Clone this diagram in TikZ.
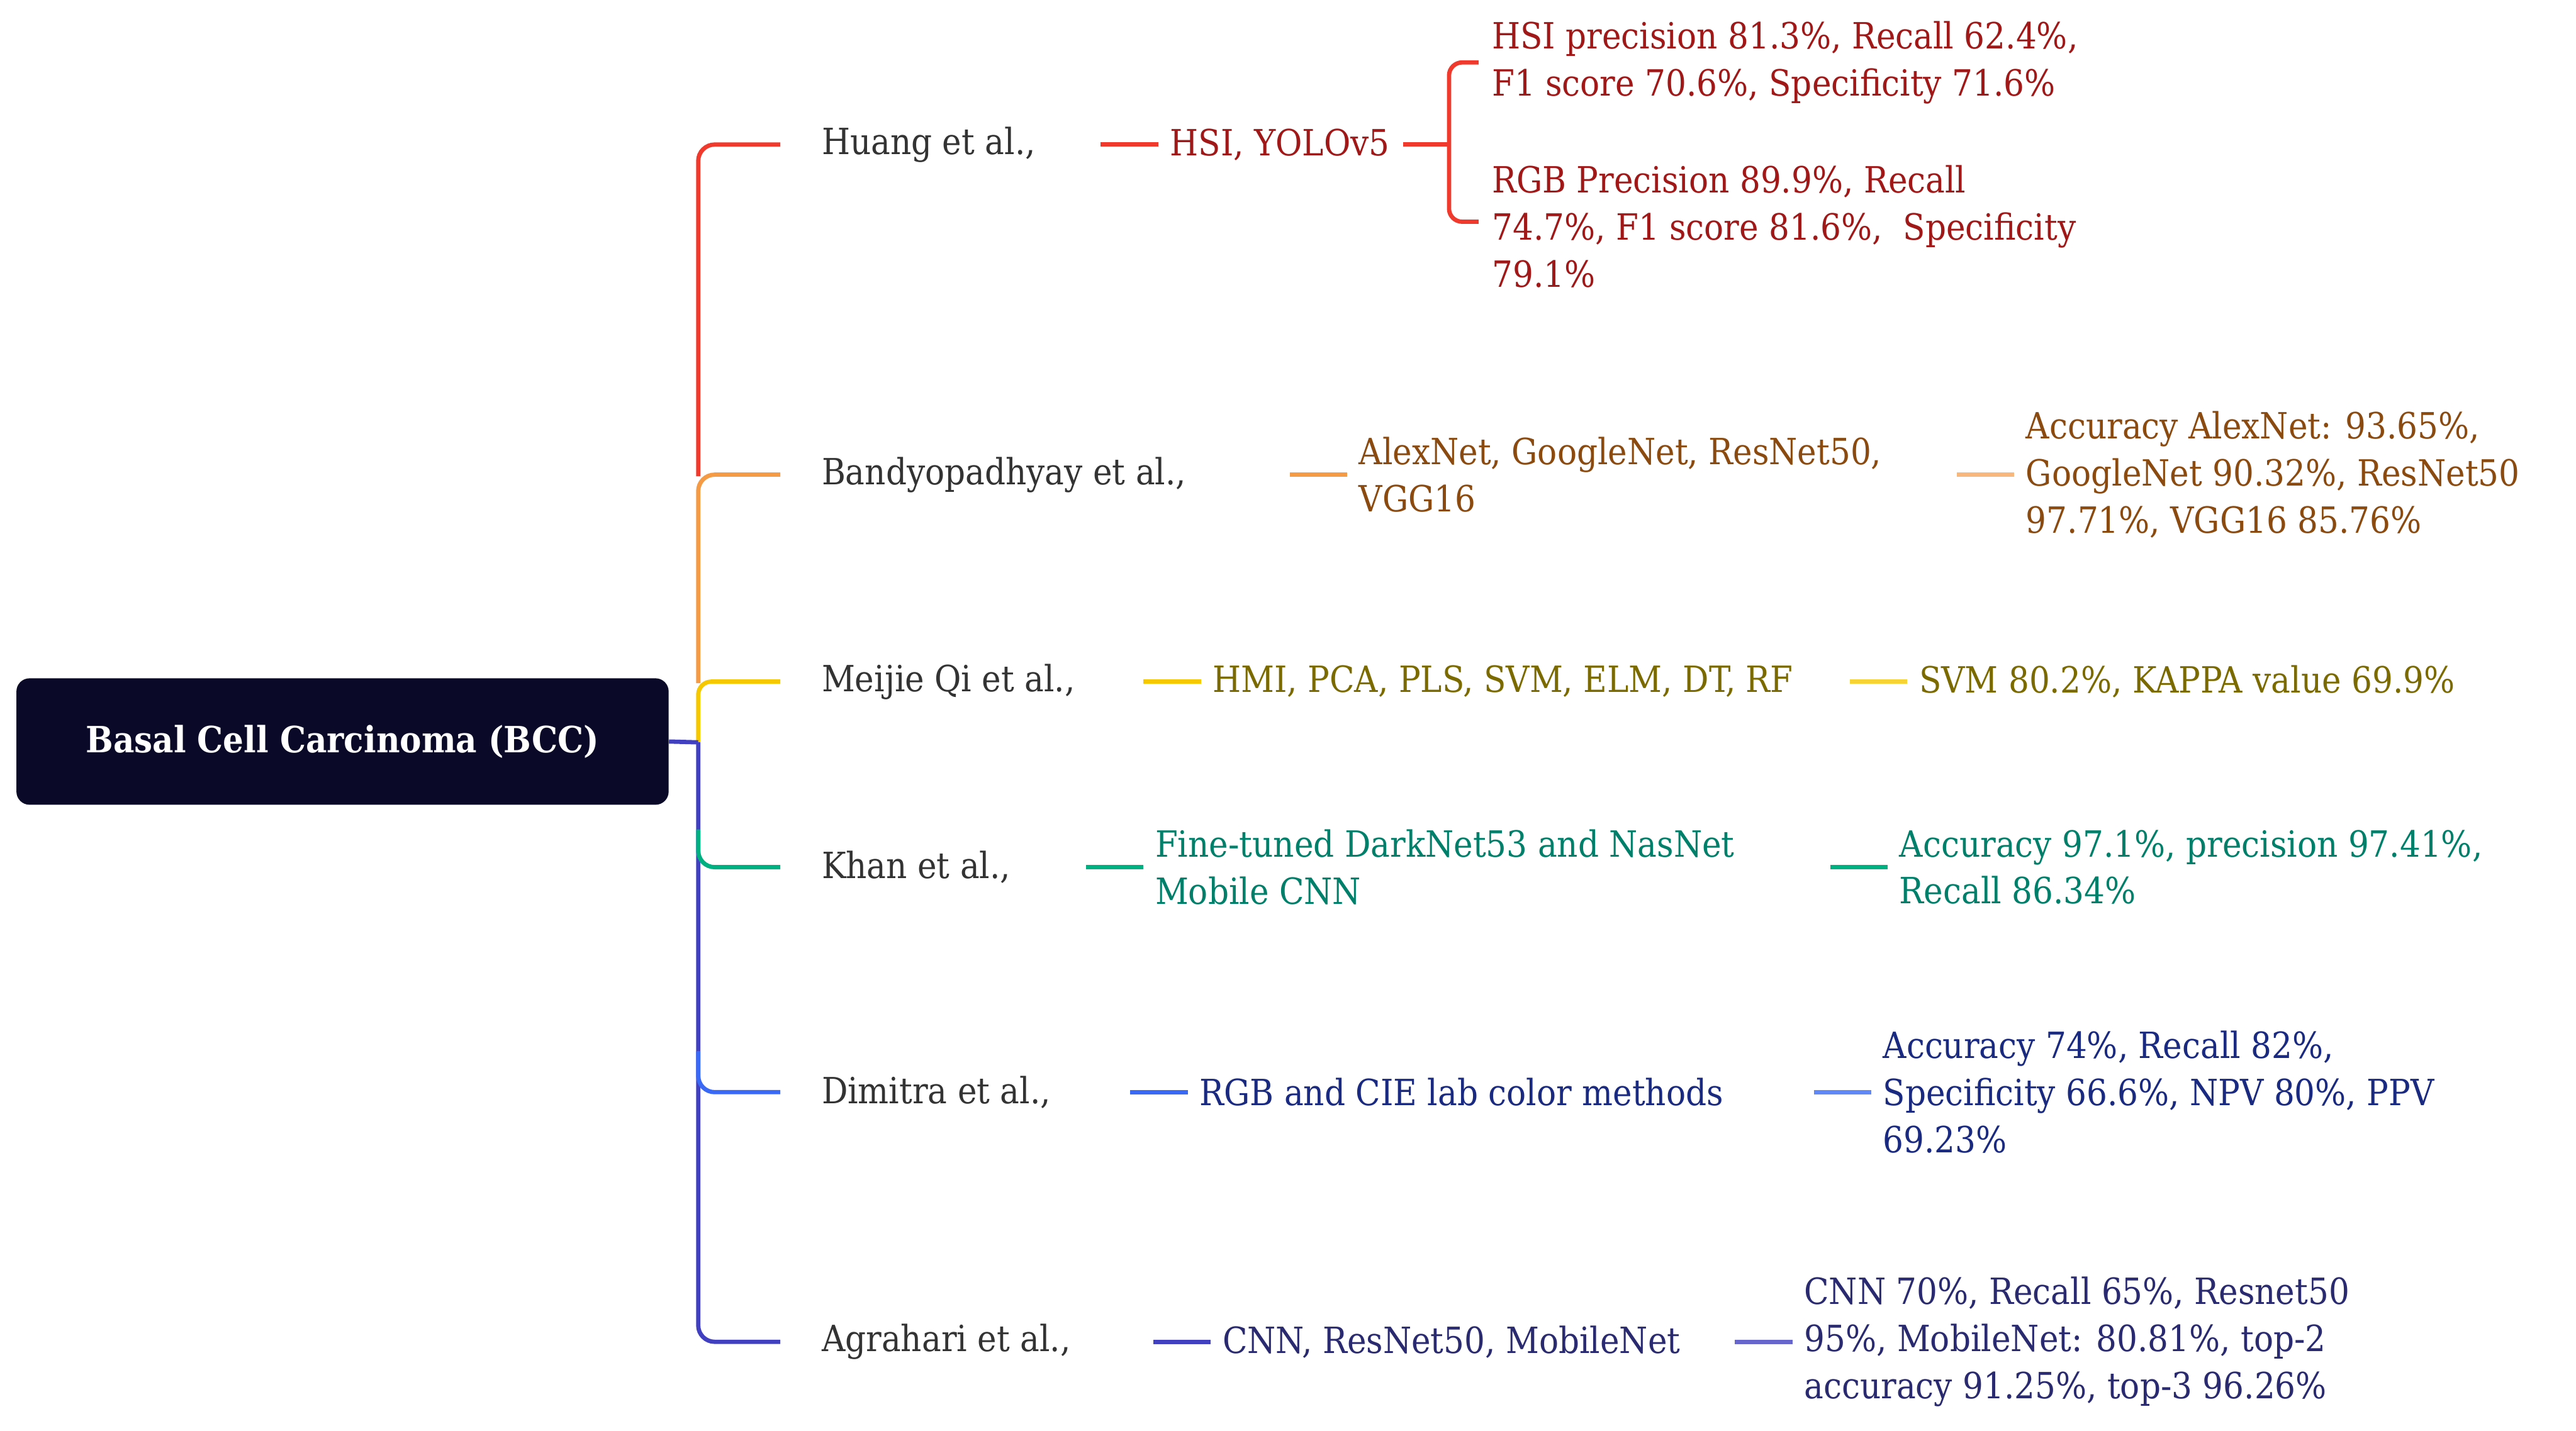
\documentclass[tikz,border=0pt]{standalone}
\usepackage{fontspec}
\usetikzlibrary{calc}
\setmainfont{DejaVu Serif Condensed}
\definecolor{cRed}{HTML}{F03A2E}\definecolor{tRed}{HTML}{A01818}
\definecolor{cOr}{HTML}{F59A45}\definecolor{tOr}{HTML}{8A4A10}
\definecolor{cYe}{HTML}{F5C800}\definecolor{tYe}{HTML}{7A6A00}
\definecolor{cGr}{HTML}{00B080}\definecolor{tGr}{HTML}{00806A}
\definecolor{cBl}{HTML}{3A6AF5}\definecolor{tBl}{HTML}{1A2A80}
\definecolor{cIn}{HTML}{4040C0}\definecolor{tIn}{HTML}{2A2A70}
\definecolor{rootc}{HTML}{0A0A28}
\begin{document}
\begin{tikzpicture}[x=1pt,y=-1pt,
 txt/.style={anchor=west,align=left,inner sep=0pt,font=\fontsize{22}{28.7}\selectfont},
 nm/.style={txt,text=black!80},
 ln/.style={line width=2.6pt}]
\useasboundingbox (0,0) rectangle (1568,871);
\node[fill=rootc,rounded corners=8pt,minimum width=397pt,minimum height=77pt,text=white,font=\fontsize{22}{26}\selectfont\bfseries] (root) at (208.5,451.5) {Basal Cell Carcinoma (BCC)};
% trunk
\draw[ln,cRed,rounded corners=10pt] (475,88) -- (425,88) -- (425,290);
\draw[ln,cOr,rounded corners=10pt] (475,289) -- (425,289) -- (425,416);
\draw[ln,cYe,rounded corners=8pt] (475,415) -- (425,415) -- (425,452);
\draw[ln,cIn] (root.east) -- (425,452);
\draw[ln,cIn,rounded corners=10pt] (425,452) -- (425,817) -- (475,817);
\draw[ln,cGr,rounded corners=10pt] (425,505) -- (425,528) -- (475,528);
\draw[ln,cBl,rounded corners=10pt] (425,640) -- (425,665) -- (475,665);
% names
\node[nm] (n1) at (500,88) {Huang et al.,};
\node[nm] (n2) at (500,289) {Bandyopadhyay et al.,};
\node[nm] (n3) at (500,415) {Meijie Qi et al.,};
\node[nm] (n4) at (500,528) {Khan et al.,};
\node[nm] (n5) at (500,665) {Dimitra et al.,};
\node[nm] (n6) at (500,817) {Agrahari et al.,};
% methods
\node[txt,text=tRed] (m1) at (712,88) {HSI, YOLOv5};
\node[txt,text=tOr] (m2) at (827,289) {AlexNet, GoogleNet, ResNet50,\\VGG16};
\node[txt,text=tYe] (m3) at (738,415) {HMI, PCA, PLS, SVM, ELM, DT, RF};
\node[txt,text=tGr] (m4) at (703,528) {Fine-tuned DarkNet53 and NasNet\\Mobile CNN};
\node[txt,text=tBl] (m5) at (730,665) {RGB and CIE lab color methods};
\node[txt,text=tIn] (m6) at (744,817) {CNN, ResNet50, MobileNet};
% results
\node[txt,text=tRed] (r1a) at (908,38) {HSI precision 81.3\%, Recall 62.4\%,\\F1 score 70.6\%, Specificity 71.6\%};
\node[txt,text=tRed] (r1b) at (908,138) {RGB Precision 89.9\%, Recall\\74.7\%, F1 score 81.6\%,\ \ Specificity\\79.1\%};
\node[txt,text=tOr] (r2) at (1233,289) {Accuracy AlexNet: 93.65\%,\\GoogleNet 90.32\%, ResNet50\\97.71\%, VGG16 85.76\%};
\node[txt,text=tYe] (r3) at (1168,415) {SVM 80.2\%, KAPPA value 69.9\%};
\node[txt,text=tGr] (r4) at (1156,528) {Accuracy 97.1\%, precision 97.41\%,\\Recall 86.34\%};
\node[txt,text=tBl] (r5) at (1146,665) {Accuracy 74\%, Recall 82\%,\\Specificity 66.6\%, NPV 80\%, PPV\\69.23\%};
\node[txt,text=tIn] (r6) at (1098,817) {CNN 70\%, Recall 65\%, Resnet50\\95\%, MobileNet: 80.81\%, top-2\\accuracy 91.25\%, top-3 96.26\%};
% connectors (short stubs before each node)
\foreach \t/\c in {m1/cRed,m2/cOr,m3/cYe,m4/cGr,m5/cBl,m6/cIn,r2/cOr!70,r3/cYe!80,r4/cGr,r5/cBl!80,r6/cIn!80}
  \draw[ln,\c] ($(\t.west)+(-42,0)$) -- ($(\t.west)+(-7,0)$);
% brace for Huang
\coordinate (b) at (882,88);
\draw[ln,cRed] ($(m1.east)+(8,0)$) -- (b);
\draw[ln,cRed,rounded corners=8pt] ($(r1a.west)+(-8,0)$) coordinate (bt) -- (b |- bt) -- (b) -- (882,135) -- (900,135);
\end{tikzpicture}
\end{document}
